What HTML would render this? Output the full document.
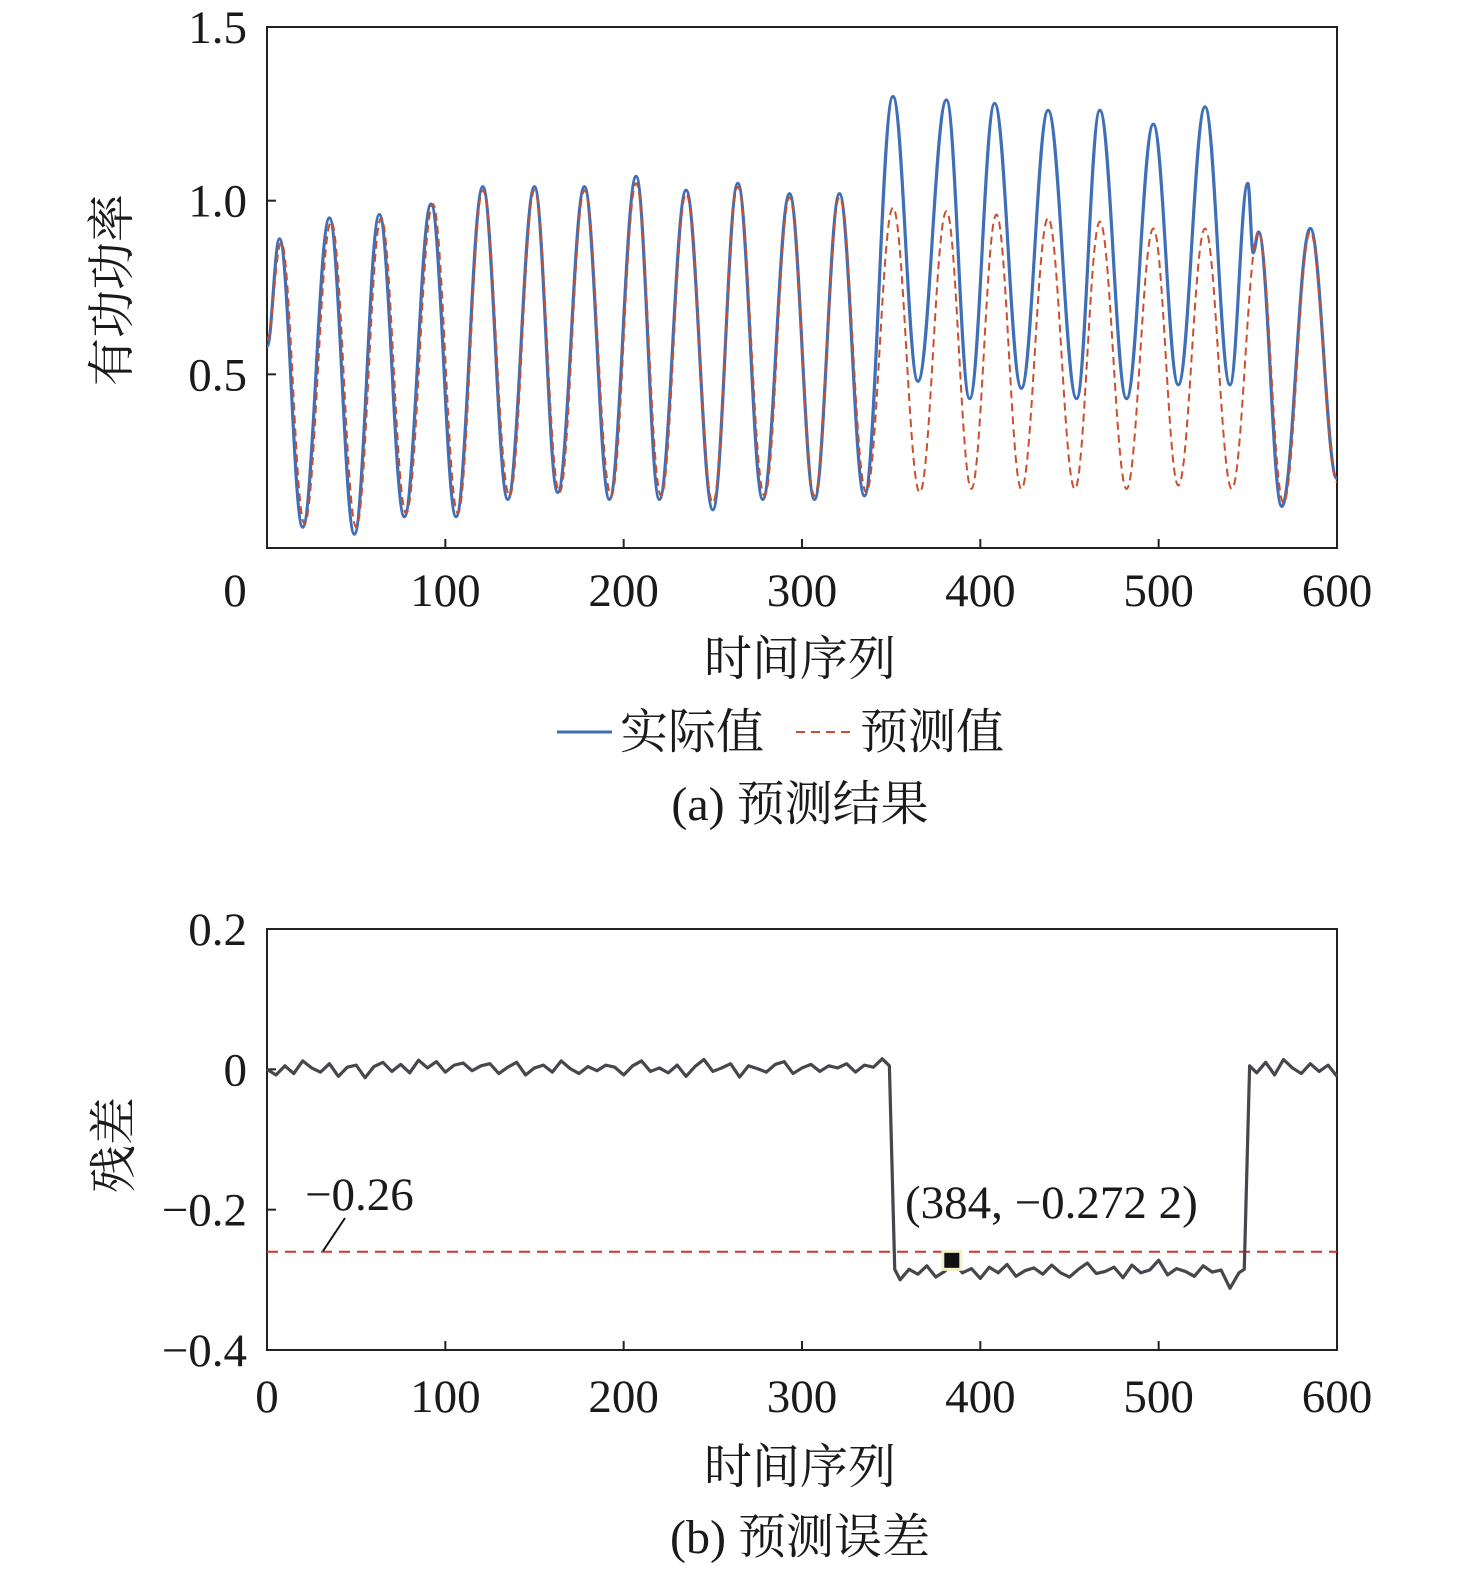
<!DOCTYPE html>
<html><head><meta charset="utf-8">
<style>
html,body{margin:0;padding:0;background:#fff;}
svg{display:block;}
.num{font-family:"Liberation Serif","Noto Serif CJK SC",serif;font-size:47px;fill:#1a1a1a;}
.cjk{font-family:"Liberation Serif","Noto Serif CJK SC",serif;font-size:48px;fill:#1a1a1a;}
</style></head>
<body>
<svg id="chart" width="1476" height="1591" viewBox="0 0 1476 1591" xmlns="http://www.w3.org/2000/svg">
<g id="ga"></g>
<g id="gb"></g>
</svg>
<script>
// ---- Chart (a) data: extrema of series ----
const actualT = [0,7,20,35,49,63,77,92,106,121,135,150,163,178,192,207,220,235,250,264,278,293,307,321,335,351,365,381,394,408,423,438,454,467,482,497,511,526,540,550,553,556,569,585,600];
const actualV = [0.58,0.89,0.06,0.95,0.04,0.96,0.09,0.99,0.09,1.04,0.14,1.04,0.16,1.04,0.14,1.07,0.14,1.03,0.11,1.05,0.14,1.02,0.14,1.02,0.15,1.30,0.48,1.29,0.43,1.28,0.46,1.26,0.43,1.26,0.43,1.22,0.47,1.27,0.47,1.05,0.85,0.91,0.12,0.92,0.20];
const predT = [0,8,21,36,50,64,78,93,107,121,136,150,164,178,193,207,221,235,250,264,279,293,307,321,336,351,366,381,395,409,423,438,453,467,482,497,511,526,541,556,570,585,600];
const predV = [0.60,0.88,0.07,0.94,0.06,0.95,0.10,0.99,0.10,1.03,0.15,1.03,0.16,1.03,0.15,1.05,0.15,1.02,0.13,1.04,0.15,1.01,0.15,1.01,0.16,0.98,0.16,0.97,0.17,0.96,0.17,0.95,0.17,0.94,0.17,0.92,0.18,0.92,0.17,0.91,0.13,0.91,0.19];
const aYTicks = [0.5,1.0,1.5];
const aYLabels = ["0.5","1.0","1.5"];
const xTicks = [0,100,200,300,400,500,600];
const xLabels = ["0","100","200","300","400","500","600"];
// ---- Chart (b) data ----
const residT = [0,5,10,15,20,25,30,35,40,45,50,55,60,65,70,75,80,85,90,95,100,105,110,115,120,125,130,135,140,145,150,155,160,165,170,175,180,185,190,195,200,205,210,215,220,225,230,235,240,245,250,255,260,265,270,275,280,285,290,295,300,305,310,315,320,325,330,335,340,345,349,352,355,360,365,370,375,380,385,390,395,400,405,410,415,420,425,430,435,440,445,450,455,460,465,470,475,480,485,490,495,500,505,510,515,520,525,530,535,540,545,548,551,555,560,565,570,575,580,585,590,595,600];
const residV = [0.000,-0.008,0.005,-0.006,0.012,0.002,-0.004,0.008,-0.010,0.003,0.006,-0.012,0.004,0.010,-0.003,0.007,-0.005,0.013,0.002,0.011,-0.004,0.006,0.009,-0.002,0.005,0.008,-0.006,0.003,0.010,-0.008,0.002,0.006,-0.004,0.012,0.001,-0.006,0.004,-0.002,0.006,0.003,-0.008,0.005,0.012,-0.003,0.002,-0.005,0.006,-0.010,0.004,0.014,-0.003,0.002,0.008,-0.011,0.005,0.001,-0.004,0.007,0.011,-0.006,0.002,0.007,-0.003,0.005,0.002,0.008,-0.004,0.006,0.003,0.015,0.005,-0.285,-0.300,-0.285,-0.292,-0.280,-0.296,-0.288,-0.275,-0.290,-0.284,-0.298,-0.282,-0.290,-0.278,-0.295,-0.287,-0.283,-0.292,-0.279,-0.290,-0.296,-0.285,-0.276,-0.291,-0.288,-0.282,-0.297,-0.279,-0.290,-0.286,-0.272,-0.293,-0.284,-0.288,-0.295,-0.280,-0.289,-0.286,-0.312,-0.290,-0.285,0.005,-0.005,0.010,-0.008,0.014,0.002,-0.006,0.008,-0.003,0.006,-0.010];
const bYTicks = [0.2,0,-0.2,-0.4];
const bYLabels = ["0.2","0","\u22120.2","\u22120.4"];
const thresholdV = [-0.26];
const markerT = [384];
const markerV = [-0.2722];

const NS="http://www.w3.org/2000/svg";
function mk(tag,attrs,parent,text){const e=document.createElementNS(NS,tag);for(const k in attrs)e.setAttribute(k,attrs[k]);if(text!==undefined)e.textContent=text;parent.appendChild(e);return e;}

const X0=267,X1=1337;
function xs(t){return X0+(t/600)*(X1-X0);}
const aTop=27,aBot=548;
function ya(v){return aBot-(v/1.5)*(aBot-aTop);}
const bTop=929,bBot=1350;
function yb(v){return bTop+((0.2-v)/0.6)*(bBot-bTop);}

function smoothPath(T,V,ys){let d="M"+xs(T[0])+","+ys(V[0]);
 for(let i=1;i<T.length;i++){const x0=xs(T[i-1]),y0=ys(V[i-1]),x1=xs(T[i]),y1=ys(V[i]);const dx=(x1-x0)/2.6;
 d+=" C"+(x0+dx)+","+y0+" "+(x1-dx)+","+y1+" "+x1+","+y1;}return d;}
function linePath(T,V,ys){return T.map((t,i)=>(i?"L":"M")+xs(t)+","+ys(V[i])).join(" ");}

// ---- Chart A ----
const ga=document.getElementById('ga');
let e;
e=mk('rect',{x:X0,y:aTop,width:X1-X0,height:aBot-aTop,fill:'none',stroke:'#222','stroke-width':2},ga);


aYTicks.forEach((v,i)=>{
 const t=mk('line',{x1:X0,x2:X0+9,y1:ya(v),y2:ya(v),stroke:'#222','stroke-width':2},ga);
 
 
 const l=mk('text',{x:X0-20,y:ya(v)+16,'text-anchor':'end','class':'num'},ga,aYLabels[i]);
 
 
});
xTicks.forEach((v,i)=>{
 const t=mk('line',{x1:xs(v),x2:xs(v),y1:aBot,y2:aBot-9,stroke:'#222','stroke-width':2},ga);
 
 
 const lx=(v===0)?235:xs(v);
 const l=mk('text',{x:lx,y:606,'text-anchor':'middle','class':'num'},ga,xLabels[i]);
 
 
});
e=mk('path',{d:smoothPath(actualT,actualV,ya),fill:'none',stroke:'#3f6fb6','stroke-width':3.2},ga);


e=mk('path',{d:smoothPath(predT,predV,ya),fill:'none',stroke:'#c8502e','stroke-width':2,'stroke-dasharray':'8,5'},ga);


e=mk('text',{x:800,y:675,'text-anchor':'middle','class':'cjk'},ga,'时间序列');


e=mk('text',{x:0,y:0,'text-anchor':'middle','class':'cjk',transform:'translate(128,290) rotate(-90)'},ga,'有功功率');


e=mk('line',{x1:557,x2:612,y1:732,y2:732,stroke:'#3f6fb6','stroke-width':3},ga);


e=mk('text',{x:620,y:748,'class':'cjk'},ga,'实际值');


e=mk('line',{x1:796,x2:851,y1:732,y2:732,stroke:'#c8502e','stroke-width':2,'stroke-dasharray':'9,6'},ga);


e=mk('text',{x:860,y:748,'class':'cjk'},ga,'预测值');


e=mk('text',{x:800,y:820,'text-anchor':'middle','class':'cjk'},ga,'(a) 预测结果');



// ---- Chart B ----
const gb=document.getElementById('gb');
e=mk('rect',{x:X0,y:bTop,width:X1-X0,height:bBot-bTop,fill:'none',stroke:'#222','stroke-width':2},gb);


bYTicks.forEach((v,i)=>{
 const t=mk('line',{x1:X0,x2:X0+9,y1:yb(v),y2:yb(v),stroke:'#222','stroke-width':2},gb);
 
 
 const l=mk('text',{x:X0-20,y:yb(v)+16,'text-anchor':'end','class':'num'},gb,bYLabels[i]);
 
 
});
xTicks.forEach((v,i)=>{
 const t=mk('line',{x1:xs(v),x2:xs(v),y1:bBot,y2:bBot-9,stroke:'#222','stroke-width':2},gb);
 
 
 const l=mk('text',{x:xs(v),y:1412,'text-anchor':'middle','class':'num'},gb,xLabels[i]);
 
 
});
e=mk('line',{x1:X0,x2:X1,y1:yb(thresholdV[0]),y2:yb(thresholdV[0]),stroke:'#d9302c','stroke-width':2,'stroke-dasharray':'11,7'},gb);


e=mk('path',{d:linePath(residT,residV,yb),fill:'none',stroke:'#46474d','stroke-width':3.2,'stroke-linejoin':'round'},gb);


e=mk('rect',{x:xs(markerT[0])-9,y:yb(markerV[0])-9,width:18,height:18,fill:'#111',stroke:'#f3efc6','stroke-width':3},gb);


e=mk('text',{x:905,y:1218,'class':'num'},gb,'(384, \u22120.272 2)');


e=mk('text',{x:305,y:1210,'class':'num'},gb,'\u22120.26');


e=mk('line',{x1:345,x2:323,y1:1218,y2:1251,stroke:'#111','stroke-width':2},gb);


e=mk('text',{x:0,y:0,'text-anchor':'middle','class':'cjk',transform:'translate(130,1145) rotate(-90)'},gb,'残差');


e=mk('text',{x:800,y:1483,'text-anchor':'middle','class':'cjk'},gb,'时间序列');


e=mk('text',{x:800,y:1553,'text-anchor':'middle','class':'cjk'},gb,'(b) 预测误差');


</script>
</body></html>
